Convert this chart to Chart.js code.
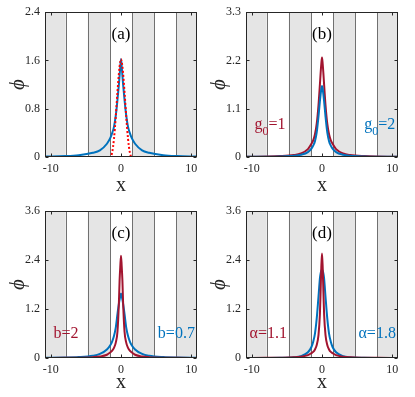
<!DOCTYPE html>
<html>
<head>
<meta charset="utf-8">
<script src="https://cdn.jsdelivr.net/npm/chart.js@4.4.1/dist/chart.umd.min.js"></script>
<style>
  body { margin: 0; background: #fff; }
  #wrap { position: relative; width: 415px; height: 397px; overflow: hidden; }
  canvas { position: absolute; }
</style>
</head>
<body>
<div id="wrap">
  <canvas id="pa" width="207" height="199" style="left:0;top:0"></canvas>
  <canvas id="pb" width="214" height="199" style="left:201px;top:0"></canvas>
  <canvas id="pc" width="207" height="198" style="left:0;top:199px"></canvas>
  <canvas id="pd" width="214" height="198" style="left:201px;top:199px"></canvas>
</div>
<script>
// x positions shared by all curves
const xGrid = [-10.8, -8, -6, -4, -3, -2, -1.5, -1.25, -1, -0.75, -0.5, -0.3, -0.2, -0.1, 0,
  0.1, 0.2, 0.3, 0.5, 0.75, 1, 1.25, 1.5, 2, 3, 4, 6, 8, 10.8];

// (a) numerical soliton and variational profile
const phiA_num = [0.008, 0.015, 0.03, 0.07, 0.11, 0.22, 0.32, 0.4, 0.5, 0.68, 0.95, 1.2, 1.35, 1.5, 1.62,
  1.5, 1.35, 1.2, 0.95, 0.68, 0.5, 0.4, 0.32, 0.22, 0.11, 0.07, 0.03, 0.015, 0.008];
const phiA_var = [0, 0, 0, 0, 0, 0, 0, 0.08, 0.3, 0.66, 1.08, 1.38, 1.5, 1.58, 1.62,
  1.58, 1.5, 1.38, 1.08, 0.66, 0.3, 0.08, 0, 0, 0, 0, 0, 0, 0];

// (b) g0 = 1 and g0 = 2
const phiB_g1 = [0.005, 0.01, 0.02, 0.045, 0.08, 0.18, 0.3, 0.38, 0.52, 0.76, 1.18, 1.65, 1.9, 2.12, 2.27,
  2.12, 1.9, 1.65, 1.18, 0.76, 0.52, 0.38, 0.3, 0.18, 0.08, 0.045, 0.02, 0.01, 0.005];
const phiB_g2 = [0.003, 0.006, 0.012, 0.028, 0.05, 0.11, 0.19, 0.26, 0.36, 0.56, 0.92, 1.27, 1.42, 1.55, 1.62,
  1.55, 1.42, 1.27, 0.92, 0.56, 0.36, 0.26, 0.19, 0.11, 0.05, 0.028, 0.012, 0.006, 0.003];

// (c) b = 2 and b = 0.7
const phiC_b2 = [0.002, 0.004, 0.008, 0.02, 0.036, 0.08, 0.14, 0.18, 0.25, 0.37, 0.65, 1.35, 1.9, 2.25, 2.51,
  2.25, 1.9, 1.35, 0.65, 0.37, 0.25, 0.18, 0.14, 0.08, 0.036, 0.02, 0.008, 0.004, 0.002];
const phiC_b07 = [0.005, 0.01, 0.022, 0.055, 0.1, 0.21, 0.32, 0.41, 0.54, 0.74, 1.08, 1.33, 1.43, 1.52, 1.58,
  1.52, 1.43, 1.33, 1.08, 0.74, 0.54, 0.41, 0.32, 0.21, 0.1, 0.055, 0.022, 0.01, 0.005];

// (d) alpha = 1.1 and alpha = 1.8
const phiD_a11 = [0.002, 0.004, 0.007, 0.016, 0.03, 0.07, 0.12, 0.15, 0.21, 0.32, 0.56, 1.07, 1.62, 2.22, 2.56,
  2.22, 1.62, 1.07, 0.56, 0.32, 0.21, 0.15, 0.12, 0.07, 0.03, 0.016, 0.007, 0.004, 0.002];
const phiD_a18 = [0.001, 0.002, 0.004, 0.018, 0.045, 0.14, 0.27, 0.4, 0.6, 0.97, 1.5, 1.95, 2.07, 2.14, 2.17,
  2.14, 2.07, 1.95, 1.5, 0.97, 0.6, 0.4, 0.27, 0.14, 0.045, 0.018, 0.004, 0.002, 0.001];

const xTicks = [-10, 0, 10];
const yTicksA = [0, 0.8, 1.6, 2.4];
const yTicksB = [0, 1.1, 2.2, 3.3];
const yTicksC = [0, 1.2, 2.4, 3.6];
const yTicksD = [0, 1.2, 2.4, 3.6];

// lattice: shaded cells and their edges
const grayBands = [[-10.8, -7.854], [-4.712, -1.571], [1.571, 4.712], [7.854, 10.8]];
const bandEdges = [-7.854, -4.712, -1.571, 1.571, 4.712, 7.854];

const RED = '#A2142F';
const BLUE = '#0072BD';
const SERIF = '"Liberation Serif", "Times New Roman", "DejaVu Serif", serif';
const AXIS = '#262626';

function pts(ys) {
  return xGrid.map((x, i) => ({ x: x, y: ys[i] }));
}

const decor = {
  id: 'decor',
  beforeDatasetsDraw(chart) {
    const { ctx, chartArea: a, scales: { x } } = chart;
    ctx.save();
    ctx.fillStyle = '#e5e5e5';
    grayBands.forEach(([l, r]) => {
      const x0 = x.getPixelForValue(l), x1 = x.getPixelForValue(r);
      ctx.fillRect(x0, a.top, x1 - x0, a.bottom - a.top);
    });
    ctx.strokeStyle = '#707070';
    ctx.lineWidth = 1;
    bandEdges.forEach(e => {
      const px = Math.round(x.getPixelForValue(e)) + 0.5;
      ctx.beginPath();
      ctx.moveTo(px, a.top);
      ctx.lineTo(px, a.bottom);
      ctx.stroke();
    });
    ctx.restore();
  },
  afterDatasetsDraw(chart, args, opts) {
    const { ctx, chartArea: a, scales: { x, y } } = chart;
    ctx.save();
    ctx.strokeStyle = AXIS;
    ctx.lineWidth = 1;
    const L = Math.round(a.left) + 0.5, R = Math.round(a.right) - 0.5;
    const T = Math.round(a.top) + 0.5, B = Math.round(a.bottom) - 0.5;
    ctx.strokeRect(L, T, R - L, B - T);
    // inward ticks on all four sides
    const tl = 3;
    ctx.beginPath();
    x.ticks.forEach(t => {
      const px = Math.round(x.getPixelForValue(t.value)) + 0.5;
      ctx.moveTo(px, B); ctx.lineTo(px, B - tl);
      ctx.moveTo(px, T); ctx.lineTo(px, T + tl);
    });
    y.ticks.forEach(t => {
      const py = Math.round(y.getPixelForValue(t.value)) + 0.5;
      ctx.moveTo(L, py); ctx.lineTo(L + tl, py);
      ctx.moveTo(R, py); ctx.lineTo(R - tl, py);
    });
    ctx.stroke();

    // panel letter
    ctx.fillStyle = '#000';
    ctx.font = '17px ' + SERIF;
    ctx.textAlign = 'center';
    ctx.textBaseline = 'middle';
    ctx.fillText(opts.letter, x.getPixelForValue(0), a.top + 22);

    // labels of the two curves
    ctx.textBaseline = 'alphabetic';
    ctx.textAlign = 'left';
    (opts.notes || []).forEach(n => {
      const big = '16px ' + SERIF, small = '12px ' + SERIF;
      let w = 0;
      n.parts.forEach(p => { ctx.font = p.sub ? small : big; w += ctx.measureText(p.t).width; });
      let px = x.getPixelForValue(n.x);
      if (n.align === 'right') px -= w;
      const py = y.getPixelForValue(n.y);
      ctx.fillStyle = n.color;
      n.parts.forEach(p => {
        ctx.font = p.sub ? small : big;
        ctx.fillText(p.t, px, p.sub ? py + 6 : py);
        px += ctx.measureText(p.t).width;
      });
    });
    ctx.restore();
  }
};

function makePanel(id, datasets, yTicks, letter, notes, pad, xTitlePad) {
  const yMax = yTicks[yTicks.length - 1];
  const canvas = document.getElementById(id);
  return new Chart(canvas, {
    type: 'scatter',
    data: { datasets: datasets },
    options: {
      responsive: false,
      animation: false,
      devicePixelRatio: 1,
      layout: { padding: pad },
      plugins: {
        legend: { display: false },
        tooltip: { enabled: false },
        decor: { letter: letter, notes: notes }
      },
      elements: { point: { radius: 0 } },
      scales: {
        x: {
          type: 'linear',
          min: -10.8,
          max: 10.8,
          grid: { display: false, drawTicks: false },
          border: { display: false },
          afterBuildTicks: s => { s.ticks = xTicks.map(v => ({ value: v })); },
          afterFit: s => { s.height = canvas.height - pad.top - 149; },
          ticks: {
            color: AXIS,
            padding: 5,
            maxRotation: 0,
            font: { family: SERIF, size: 12 },
            callback: v => String(v)
          },
          title: {
            display: true,
            text: 'x',
            color: AXIS,
            font: { family: SERIF, size: 20, lineHeight: 1 },
            padding: { top: 0, bottom: xTitlePad }
          }
        },
        y: {
          type: 'linear',
          min: 0,
          max: yMax,
          grid: { display: false, drawTicks: false },
          border: { display: false },
          afterBuildTicks: s => { s.ticks = yTicks.map(v => ({ value: v })); },
          afterFit: s => { s.width = 45; },
          ticks: {
            color: AXIS,
            padding: 5,
            font: { family: SERIF, size: 12 },
            callback: v => String(v)
          },
          title: {
            display: true,
            text: 'ϕ',
            color: AXIS,
            font: { family: SERIF, size: 21, style: 'italic', lineHeight: 1 },
            padding: { top: 8, bottom: 0 }
          }
        }
      }
    },
    plugins: [decor]
  });
}

function line(ys, color, dash) {
  return {
    data: pts(ys),
    showLine: true,
    borderColor: color,
    backgroundColor: color,
    borderWidth: 2,
    borderDash: dash || [],
    cubicInterpolationMode: 'monotone',
    pointRadius: 0,
    fill: false
  };
}

makePanel('pa',
  [line(phiA_var, '#FF0000', [2, 2]), line(phiA_num, BLUE)],
  yTicksA, '(a)', [],
  { top: 8, right: 10, left: 0, bottom: 0 }, 3);

makePanel('pb',
  [line(phiB_g2, BLUE), line(phiB_g1, RED)],
  yTicksB, '(b)',
  [
    { parts: [{ t: 'g' }, { t: '0', sub: true }, { t: '=1' }], x: -9.6, y: 0.64, align: 'left', color: RED },
    { parts: [{ t: 'g' }, { t: '0', sub: true }, { t: '=2' }], x: 10.4, y: 0.64, align: 'right', color: BLUE }
  ],
  { top: 8, right: 17, left: 0, bottom: 0 }, 3);

makePanel('pc',
  [line(phiC_b2, RED), line(phiC_b07, BLUE)],
  yTicksC, '(c)',
  [
    { parts: [{ t: 'b=2' }], x: -9.6, y: 0.5, align: 'left', color: RED },
    { parts: [{ t: 'b=0.7' }], x: 10.5, y: 0.5, align: 'right', color: BLUE }
  ],
  { top: 10, right: 10, left: 0, bottom: 0 }, 4);

makePanel('pd',
  [line(phiD_a11, RED), line(phiD_a18, BLUE)],
  yTicksD, '(d)',
  [
    { parts: [{ t: 'α=1.1' }], x: -10.3, y: 0.5, align: 'left', color: RED },
    { parts: [{ t: 'α=1.8' }], x: 10.5, y: 0.5, align: 'right', color: BLUE }
  ],
  { top: 10, right: 17, left: 0, bottom: 0 }, 4);
</script>
</body>
</html>
